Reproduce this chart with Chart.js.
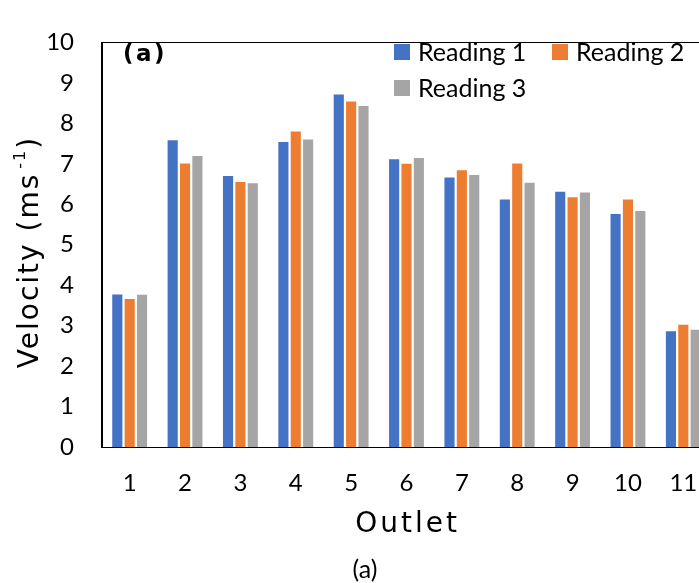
<!DOCTYPE html>
<html>
<head>
<meta charset="utf-8">
<script src="https://cdn.jsdelivr.net/npm/chart.js@4/dist/chart.umd.min.js"></script>
<style>
  html, body { margin: 0; padding: 0; background: #fff; overflow: hidden; width: 699px; height: 583px; }
  #wrap { position: absolute; left: 0; top: 0; width: 740px; height: 583px; }
</style>
</head>
<body>
<div id="wrap"><canvas id="c" width="740" height="583"></canvas></div>
<script>
// ---- data ----
const categories = ['1','2','3','4','5','6','7','8','9','10','11'];
const reading1 = [3.77, 7.58, 6.70, 7.54, 8.71, 7.11, 6.66, 6.12, 6.31, 5.76, 2.86];
const reading2 = [3.66, 7.01, 6.55, 7.80, 8.54, 7.00, 6.84, 7.01, 6.17, 6.12, 3.02];
const reading3 = [3.76, 7.19, 6.52, 7.60, 8.43, 7.14, 6.72, 6.53, 6.29, 5.83, 2.90];
const seriesNames = ['Reading 1', 'Reading 2', 'Reading 3'];
const yTicks = [0,1,2,3,4,5,6,7,8,9,10];
const xTitle = 'Outlet';
const yTitleMain = 'Velocity (ms';
const yTitleSup = '-1';
const yTitleEnd = ')';
const panelLabel = '(a)';
const captionLabel = '(a)';

const colors = ['#4472C4', '#ED7D31', '#A5A5A5'];
const TICK_FONT = 'Lato';
const TITLE_FONT = '"DejaVu Sans"';

const extras = {
  id: 'extras',
  afterDraw(chart) {
    const ctx = chart.ctx;
    const a = chart.chartArea;
    ctx.save();
    // plot border
    ctx.strokeStyle = '#000';
    ctx.lineWidth = 1;
    ctx.strokeRect(Math.round(a.left) - 0.5, Math.round(a.top) + 0.5, Math.round(a.right - a.left), Math.round(a.bottom - a.top));

    // legend
    ctx.font = '25px ' + TICK_FONT;
    ctx.textBaseline = 'middle';
    ctx.textAlign = 'left';
    ctx.fillStyle = '#000';
    const legendPos = [[394, 52], [552, 52], [394, 88]];
    chart.data.datasets.forEach((ds, i) => {
      const [x, y] = legendPos[i];
      ctx.fillStyle = ds.backgroundColor;
      ctx.fillRect(x, y - 8, 16, 16);
      ctx.fillStyle = '#000';
      ctx.fillText(ds.label, x + 24, y + 1);
    });

    // panel label inside
    ctx.font = 'bold 23px ' + TITLE_FONT;
    ctx.letterSpacing = '2.5px';
    ctx.fillText(panelLabel, 123, 55);

    // x title
    ctx.font = '28px ' + TITLE_FONT;
    ctx.letterSpacing = '3px';
    ctx.textAlign = 'center';
    ctx.fillText(xTitle, (a.left + a.right) / 2 + 1, 525);

    // y title (rotated)
    ctx.save();
    ctx.translate(31, 252);
    ctx.rotate(-Math.PI / 2);
    ctx.letterSpacing = '2px';
    ctx.textAlign = 'left';
    ctx.font = '28px ' + TITLE_FONT;
    const w1 = ctx.measureText(yTitleMain).width;
    ctx.font = '16px ' + TITLE_FONT;
    const w2 = ctx.measureText(yTitleSup).width;
    ctx.font = '28px ' + TITLE_FONT;
    const w3 = ctx.measureText(yTitleEnd).width;
    const total = w1 + 4 + w2 + w3;
    let x = -total / 2;
    ctx.fillText(yTitleMain, x, 0);
    x += w1 + 4;
    ctx.font = '16px ' + TITLE_FONT;
    ctx.fillText(yTitleSup, x, -10);
    x += w2;
    ctx.font = '28px ' + TITLE_FONT;
    ctx.fillText(yTitleEnd, x, 0);
    ctx.restore();

    // caption
    ctx.letterSpacing = '0px';
    ctx.font = '25px ' + TICK_FONT;
    ctx.textAlign = 'center';
    ctx.fillText(captionLabel, 365, 570);
    ctx.restore();
  }
};

new Chart(document.getElementById('c'), {
  type: 'bar',
  data: {
    labels: categories,
    datasets: [
      { label: seriesNames[0], data: reading1, backgroundColor: colors[0] },
      { label: seriesNames[1], data: reading2, backgroundColor: colors[1] },
      { label: seriesNames[2], data: reading3, backgroundColor: colors[2] }
    ]
  },
  options: {
    responsive: false,
    animation: false,
    events: [],
    layout: { padding: { left: 0, right: 29, top: 24, bottom: 0 } },
    datasets: { bar: { categoryPercentage: 0.67, barPercentage: 0.82, borderWidth: 0 } },
    plugins: { legend: { display: false }, tooltip: { enabled: false }, title: { display: false } },
    scales: {
      x: {
        grid: { display: false, drawTicks: false },
        border: { display: true, color: '#000', width: 1 },
        ticks: { color: '#000', font: { family: TICK_FONT, size: 24 }, padding: 22, maxRotation: 0, autoSkip: false },
        afterFit(s) { s.height = 136; }
      },
      y: {
        min: 0, max: 10,
        grid: { display: false, drawTicks: false },
        border: { display: true, color: '#000', width: 1 },
        ticks: {
          color: '#000', font: { family: TICK_FONT, size: 24 }, padding: 28, stepSize: 1,
          callback: (v) => yTicks.includes(v) ? String(v) : ''
        },
        afterFit(s) { s.width = 102; }
      }
    }
  },
  plugins: [extras]
});
</script>
</body>
</html>
